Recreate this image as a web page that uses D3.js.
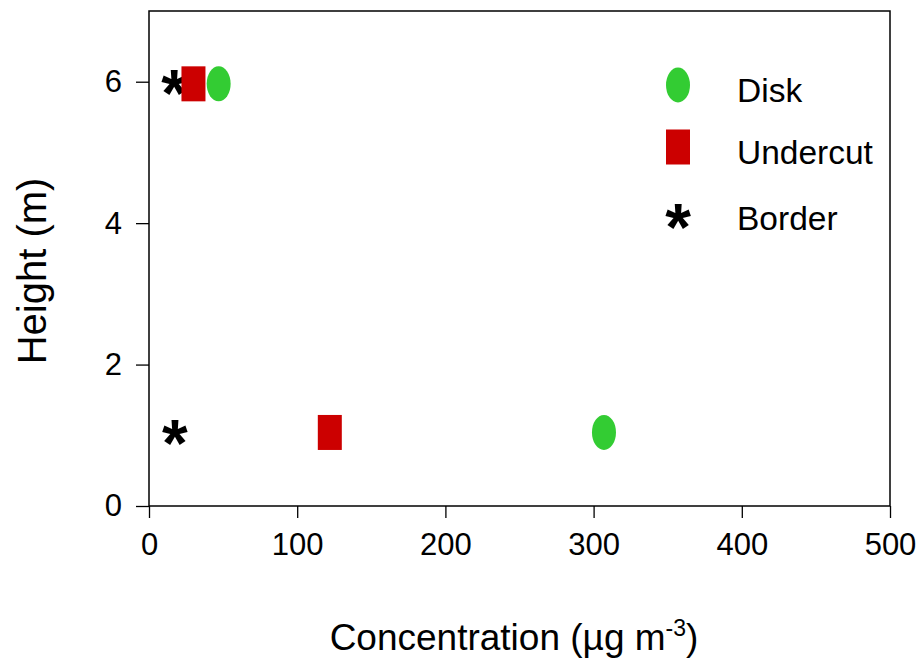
<!DOCTYPE html>
<html>
<head>
<meta charset="utf-8">
<script src="https://cdn.jsdelivr.net/npm/d3@7"></script>
<style>
  body { margin: 0; background: #fff; }
  text { font-family: "Liberation Sans", Arial, sans-serif; fill: #000; }
</style>
</head>
<body>
<svg id="chart" width="918" height="660"></svg>
<script>
const seriesNames = ['Disk', 'Undercut', 'Border'];
const diskConc = [47, 307];
const diskHeight = [5.97, 1.04];
const undercutConc = [30, 122];
const undercutHeight = [5.97, 1.04];
const borderConc = [17, 17.5];
const borderHeight = [5.96, 1.01];
const xTicks = [0, 100, 200, 300, 400, 500];
const yTicks = [0, 2, 4, 6];

const svg = d3.select('#chart');
const margin = { left: 149, top: 11, right: 28, bottom: 154 };
const width = 918 - margin.left - margin.right;
const height = 660 - margin.top - margin.bottom;

const x = d3.scaleLinear().domain([0, 500]).range([0, width]);
const y = d3.scaleLinear().domain([0, 7]).range([height, 0]);

const g = svg.append('g').attr('transform', `translate(${margin.left},${margin.top})`);

g.append('rect')
  .attr('width', width)
  .attr('height', height)
  .attr('fill', 'none')
  .attr('stroke', '#000')
  .attr('stroke-width', 1.5);

const xAxis = g.append('g')
  .attr('transform', `translate(0,${height})`)
  .call(d3.axisBottom(x).tickValues(xTicks).tickSize(12).tickPadding(15));
const yAxis = g.append('g')
  .call(d3.axisLeft(y).tickValues(yTicks).tickFormat(d3.format('d')).tickSize(13).tickPadding(14));

[xAxis, yAxis].forEach((ax) => {
  ax.select('.domain').remove();
  ax.selectAll('line').attr('stroke', '#000').attr('stroke-width', 1.3);
  ax.selectAll('text')
    .attr('font-size', 31)
    .attr('font-family', '"Liberation Sans", Arial, sans-serif')
    .attr('fill', '#000');
});

const diskColor = '#33cc33';
const undercutColor = '#cc0000';

function drawDisk(sel, cx, cy) {
  sel.append('ellipse')
    .attr('cx', cx).attr('cy', cy)
    .attr('rx', 12).attr('ry', 17.5)
    .attr('fill', diskColor);
}

function drawUndercut(sel, cx, cy) {
  sel.append('rect')
    .attr('x', cx - 12).attr('y', cy - 17.5)
    .attr('width', 24).attr('height', 35)
    .attr('fill', undercutColor);
}

function drawBorder(sel, cx, cy) {
  sel.append('text')
    .attr('x', cx).attr('y', cy + 31)
    .attr('text-anchor', 'middle')
    .attr('font-size', 66)
    .attr('font-weight', 'bold')
    .text('*');
}

borderConc.forEach((c, i) => drawBorder(g, x(c), y(borderHeight[i])));
undercutConc.forEach((c, i) => drawUndercut(g, x(c), y(undercutHeight[i])));
diskConc.forEach((c, i) => drawDisk(g, x(c), y(diskHeight[i])));

// legend
const legend = svg.append('g').attr('transform', 'translate(678,85)');
const drawers = [drawDisk, drawUndercut, drawBorder];
const rowOffsets = [0, 62, 134];
seriesNames.forEach((name, i) => {
  const row = legend.append('g').attr('transform', `translate(0,${rowOffsets[i]})`);
  drawers[i](row, 0, 0);
  row.append('text')
    .attr('x', 59).attr('y', i === 2 ? 11 : 17)
    .attr('font-size', 33.5)
    .text(name);
});

// axis titles
const xTitle = svg.append('text')
  .attr('x', 514)
  .attr('y', 650)
  .attr('text-anchor', 'middle')
  .attr('font-size', 37);
xTitle.append('tspan').text('Concentration (µg m');
xTitle.append('tspan').attr('font-size', 23).attr('dy', -14).text('-3');
xTitle.append('tspan').attr('dy', 14).text(')');

svg.append('text')
  .attr('transform', 'translate(46,271) rotate(-90)')
  .attr('text-anchor', 'middle')
  .attr('font-size', 40)
  .text('Height (m)');
</script>
</body>
</html>
